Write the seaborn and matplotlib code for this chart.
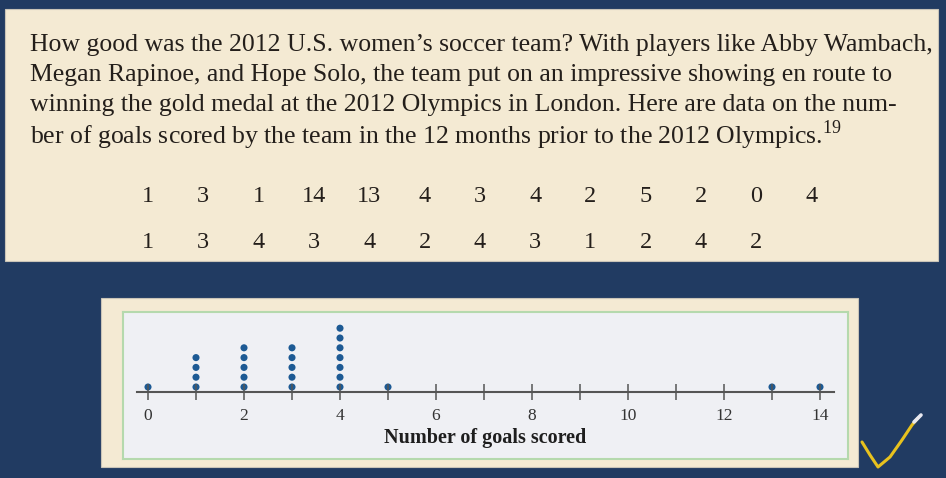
import pandas as pd
import seaborn as sns
import matplotlib
matplotlib.use("Agg")
from matplotlib import pyplot as plt
from matplotlib.patches import Rectangle
from matplotlib.lines import Line2D

# goals scored in the 12 months before the 2012 Olympics (as listed in the text)
ROW1 = [1, 3, 1, 14, 13, 4, 3, 4, 2, 5, 2, 0, 4]
ROW2 = [1, 3, 4, 3, 4, 2, 4, 3, 1, 2, 4, 2]
TICKS = list(range(0, 15))
TICK_LABELS = [str(t) if t % 2 == 0 else "" for t in TICKS]

PARAGRAPH = [
    "How good was the 2012 U.S. women\u2019s soccer team? With players like Abby Wambach,",
    "Megan Rapinoe, and Hope Solo, the team put on an impressive showing en route to",
    "winning the gold medal at the 2012 Olympics in London. Here are data on the num-",
    "ber of goals scored by the team in the 12 months prior to the 2012 Olympics.$^{19}$",
]

NAVY = "#213b62"
CREAM = "#f4ead3"
PANEL = "#eff0f4"
GREEN = "#b5d9ad"
DOT = "#1d5a94"

sns.set_theme(style="white")
plt.rcParams["font.family"] = ["Liberation Serif", "DejaVu Serif"]
plt.rcParams["mathtext.fontset"] = "custom"
plt.rcParams["mathtext.rm"] = "Liberation Serif"

W, H = 946, 478
fig = plt.figure(figsize=(W / 100, H / 100), dpi=100, facecolor=NAVY)


def box(x0, y0, x1, y1, **kw):
    fig.patches.append(Rectangle((x0 / W, 1 - y1 / H), (x1 - x0) / W, (y1 - y0) / H,
                                 transform=fig.transFigure, zorder=-5, **kw))


# slide boxes
box(5, 9, 938, 261, facecolor=CREAM, edgecolor="#c9c4b8", lw=0.8)
box(101, 298, 858, 467, facecolor=CREAM, edgecolor="#c9c4b8", lw=0.8)

# paragraph text
for i, line in enumerate(PARAGRAPH):
    fig.text(30 / W, 1 - (45 + i * 30) / H, line, fontsize=18.5, color="#241f1b",
             va="center", ha="left")

# the raw data rows
for r, row in enumerate([ROW1, ROW2]):
    for i, v in enumerate(row):
        fig.text((148 + 55.3 * i) / W, 1 - (196 + r * 47) / H, str(v), fontsize=17.5,
                 color="#241f1b", ha="center", va="center")

# dot plot
values = ROW1 + ROW2
df = pd.DataFrame({"goals": values})
df = df.sort_values("goals").reset_index(drop=True)
df["stack"] = df.groupby("goals").cumcount()

ax = fig.add_axes([123 / W, 1 - 459 / H, (848 - 123) / W, (459 - 312) / H])
ax.set_facecolor(PANEL)
for s in ax.spines.values():
    s.set_color(GREEN)
    s.set_linewidth(1.5)

sns.scatterplot(data=df, x="goals", y="stack", ax=ax, color=DOT, s=26,
                edgecolor="none", zorder=3, legend=False)
ax.set_xlabel("")
ax.set_ylabel("")

px = 48.0  # pixels per goal
ax.set_xlim((123 - 148) / px, (848 - 148) / px)
step = 9.8  # pixels per stacked dot
ax.set_ylim(-(459 - 387) / step, (387 - 312) / step)

ax.set_yticks([])
ax.set_xticks([])

# number line drawn as a separate axis through the panel
line_ax = ax.twiny()
line_ax.set_xlim(ax.get_xlim())
line_ax.set_ylim(ax.get_ylim())
for k in ["top", "left", "right"]:
    line_ax.spines[k].set_visible(False)
line_ax.spines["bottom"].set_visible(True)
line_ax.spines["bottom"].set_position(("data", -5 / step))
line_ax.spines["bottom"].set_bounds((137 - 148) / px, (834 - 148) / px)
line_ax.spines["bottom"].set_color("#555555")
line_ax.spines["bottom"].set_linewidth(1.5)
line_ax.xaxis.set_ticks_position("bottom")
line_ax.xaxis.set_label_position("bottom")
line_ax.set_xticks(TICKS)
line_ax.set_xticklabels(TICK_LABELS)
line_ax.tick_params(axis="x", direction="inout", length=11, width=1.1, color="#555555",
                    labelsize=12.5, labelcolor="#333333", pad=6)
line_ax.set_xlabel("Number of goals scored", fontsize=14.5, fontweight="bold",
                   color="#1e1e1e", labelpad=3)
line_ax.set_yticks([])
line_ax.patch.set_visible(False)

# hand-drawn check mark on the slide
fig.lines.append(Line2D(
    [x / W for x in [862, 870, 878, 890, 902, 912, 918]],
    [1 - y / H for y in [442, 455, 467, 457, 440, 425, 418]],
    transform=fig.transFigure, color="#e8c21e", lw=2.2, solid_capstyle="round"))
fig.lines.append(Line2D([914 / W, 921 / W], [1 - 422 / H, 1 - 415 / H],
                        transform=fig.transFigure, color="#e8e8f0", lw=2.6))

fig.savefig("out.png", dpi=100, facecolor=NAVY)
